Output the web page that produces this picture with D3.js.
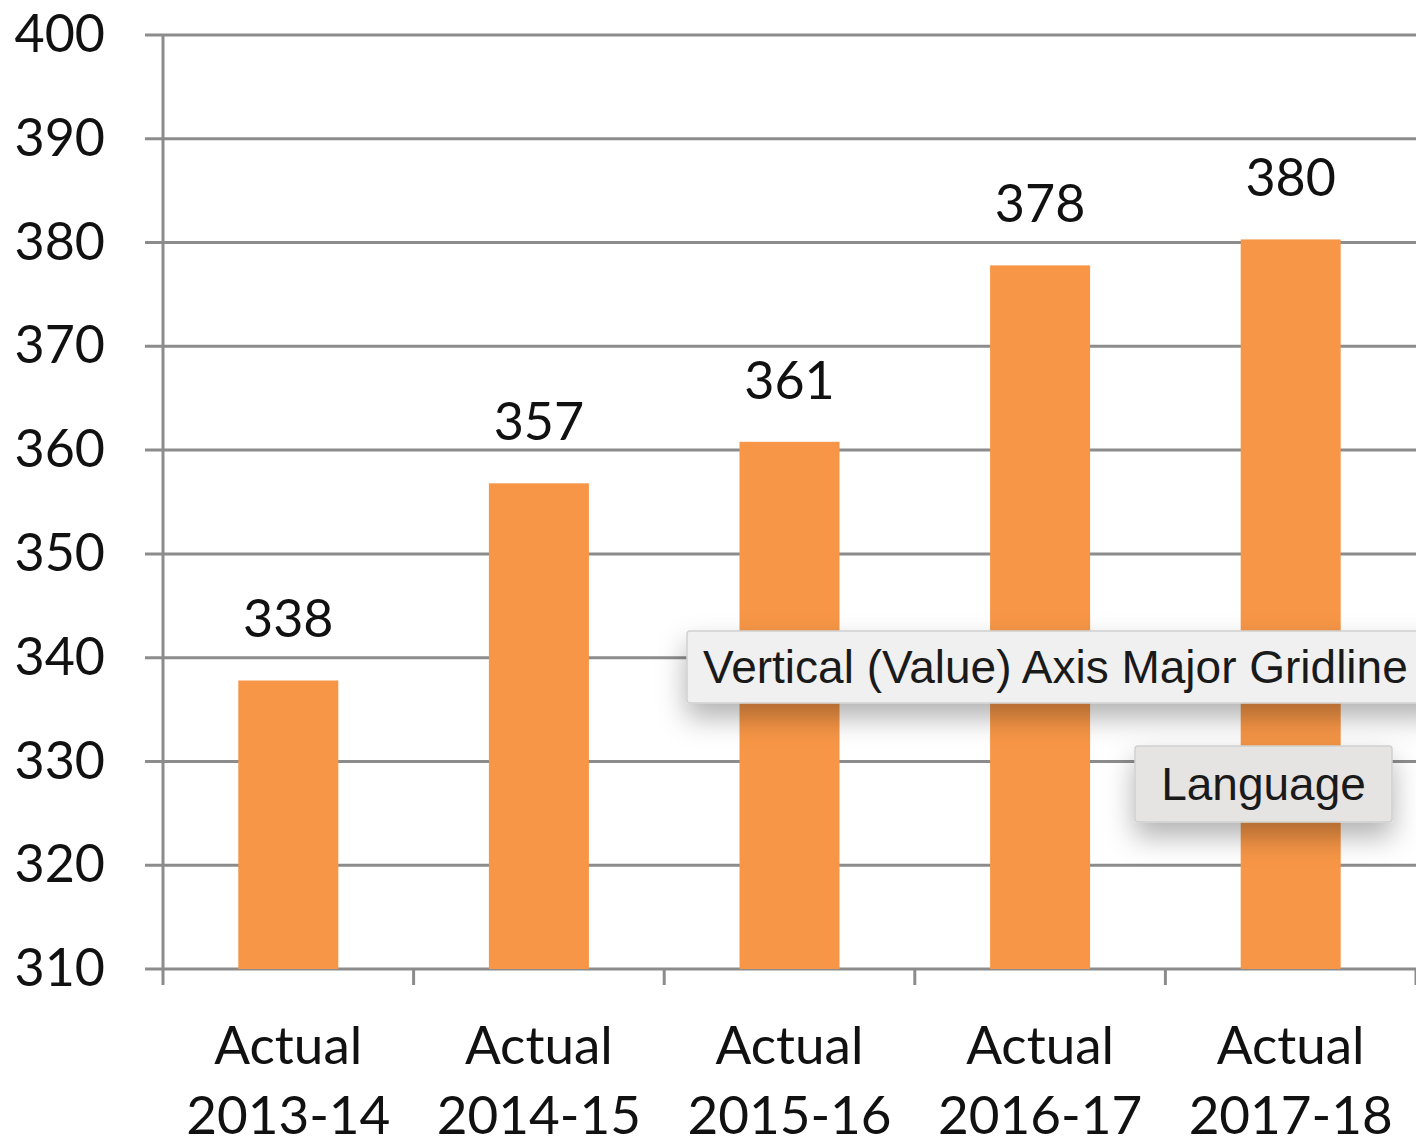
<!DOCTYPE html>
<html>
<head>
<meta charset="utf-8">
<script src="https://cdn.jsdelivr.net/npm/d3@7"></script>
<style>
  body { margin: 0; background: #fff; overflow: hidden; }
  svg { display: block; }
</style>
</head>
<body>
<div id="draw"></div>
<script>
// chart data
var categories = ["2013-14", "2014-15", "2015-16", "2016-17", "2017-18"];
var values = [337.8, 356.8, 360.8, 377.8, 380.3];
var yTicks = [310, 320, 330, 340, 350, 360, 370, 380, 390, 400];
var tooltipTexts = ["Vertical (Value) Axis Major Gridline", "Language"];

var W = 1416, H = 1147;
var plotLeft = 163, plotTop = 35, plotRight = 1416, plotBottom = 969;

var svg = d3.select('#draw').append('svg')
    .attr('width', W).attr('height', H);

var x = d3.scaleBand().domain(categories).range([plotLeft, plotRight]).paddingInner(0).paddingOuter(0);
var y = d3.scaleLinear().domain([310, 400]).range([plotBottom, plotTop]);

var defs = svg.append('defs');
var f = defs.append('filter').attr('id', 'shadow')
    .attr('x', '-20%').attr('y', '-50%').attr('width', '140%').attr('height', '250%');
f.append('feDropShadow').attr('dx', 0).attr('dy', 14).attr('stdDeviation', 14)
    .attr('flood-color', '#000').attr('flood-opacity', 0.3);

// gridlines
svg.append('g').selectAll('line')
    .data(yTicks)
    .enter()
    .append('line')
    .attr('x1', plotLeft - 18).attr('x2', W)
    .attr('y1', function(d){ return y(d); })
    .attr('y2', function(d){ return y(d); })
    .attr('stroke', '#8c8c8c').attr('stroke-width', 3);

// bars
var barW = 100;
svg.append('g').selectAll('rect')
    .data(values)
    .enter()
    .append('rect')
    .attr('x', function(d, i){ return x(categories[i]) + x.bandwidth() / 2 - barW / 2; })
    .attr('y', function(d){ return y(d); })
    .attr('width', barW)
    .attr('height', function(d){ return plotBottom - y(d); })
    .attr('fill', '#f79646');

// y axis
var yAxis = svg.append('g').attr('transform', 'translate(' + plotLeft + ',0)')
    .call(d3.axisLeft(y).tickValues(yTicks).tickSize(0).tickPadding(58));
yAxis.select('.domain').remove();
yAxis.selectAll('text')
    .attr('font-family', 'Lato, sans-serif').attr('font-size', 52).attr('fill', '#111');
svg.append('line').attr('x1', plotLeft).attr('x2', plotLeft).attr('y1', plotTop).attr('y2', plotBottom + 16)
    .attr('stroke', '#8c8c8c').attr('stroke-width', 3);

// x axis ticks at band boundaries
var bounds = categories.map(function(c){ return x(c); }).concat([plotRight]);
svg.append('g').selectAll('line')
    .data(bounds.slice(1))
    .enter()
    .append('line')
    .attr('x1', function(d){ return d; }).attr('x2', function(d){ return d; })
    .attr('y1', plotBottom).attr('y2', plotBottom + 16)
    .attr('stroke', '#8c8c8c').attr('stroke-width', 3);

// x labels
var xl = svg.append('g').selectAll('text')
    .data(categories)
    .enter()
    .append('text')
    .attr('text-anchor', 'middle')
    .attr('font-family', 'Lato, sans-serif').attr('font-size', 53).attr('fill', '#111');
xl.append('tspan')
    .attr('x', function(d){ return x(d) + x.bandwidth() / 2; })
    .attr('y', 1064)
    .text('Actual');
xl.append('tspan')
    .attr('x', function(d){ return x(d) + x.bandwidth() / 2; })
    .attr('y', 1134)
    .text(function(d){ return d; });

// data labels
svg.append('g').selectAll('text')
    .data(values)
    .enter()
    .append('text')
    .attr('x', function(d, i){ return x(categories[i]) + x.bandwidth() / 2; })
    .attr('y', function(d){ return y(d) - 43; })
    .attr('text-anchor', 'middle')
    .attr('font-family', 'Lato, sans-serif').attr('font-size', 52).attr('fill', '#111')
    .text(function(d){ return d3.format('.0f')(d); });

// tooltips
var tips = [
  { x: 687, y: 631, w: 760, h: 72, fill: '#f0f0f0' },
  { x: 1135, y: 746, w: 257, h: 76, fill: '#e6e4e2' }
];
tips.forEach(function(t, i){
  var g = svg.append('g');
  g.append('rect').attr('x', t.x).attr('y', t.y).attr('width', t.w).attr('height', t.h)
    .attr('rx', 3).attr('fill', t.fill).attr('stroke', '#d0d0d0').attr('stroke-width', 1.5)
    .attr('filter', 'url(#shadow)');
  g.append('text').attr('x', i === 0 ? t.x + 16 : t.x + t.w / 2).attr('y', t.y + t.h / 2 + 16)
    .attr('text-anchor', i === 0 ? 'start' : 'middle')
    .attr('font-family', '"Liberation Sans", Arial, sans-serif').attr('font-size', 46)
    .attr('fill', '#1a1a1a')
    .text(tooltipTexts[i]);
});
</script>
</body>
</html>
